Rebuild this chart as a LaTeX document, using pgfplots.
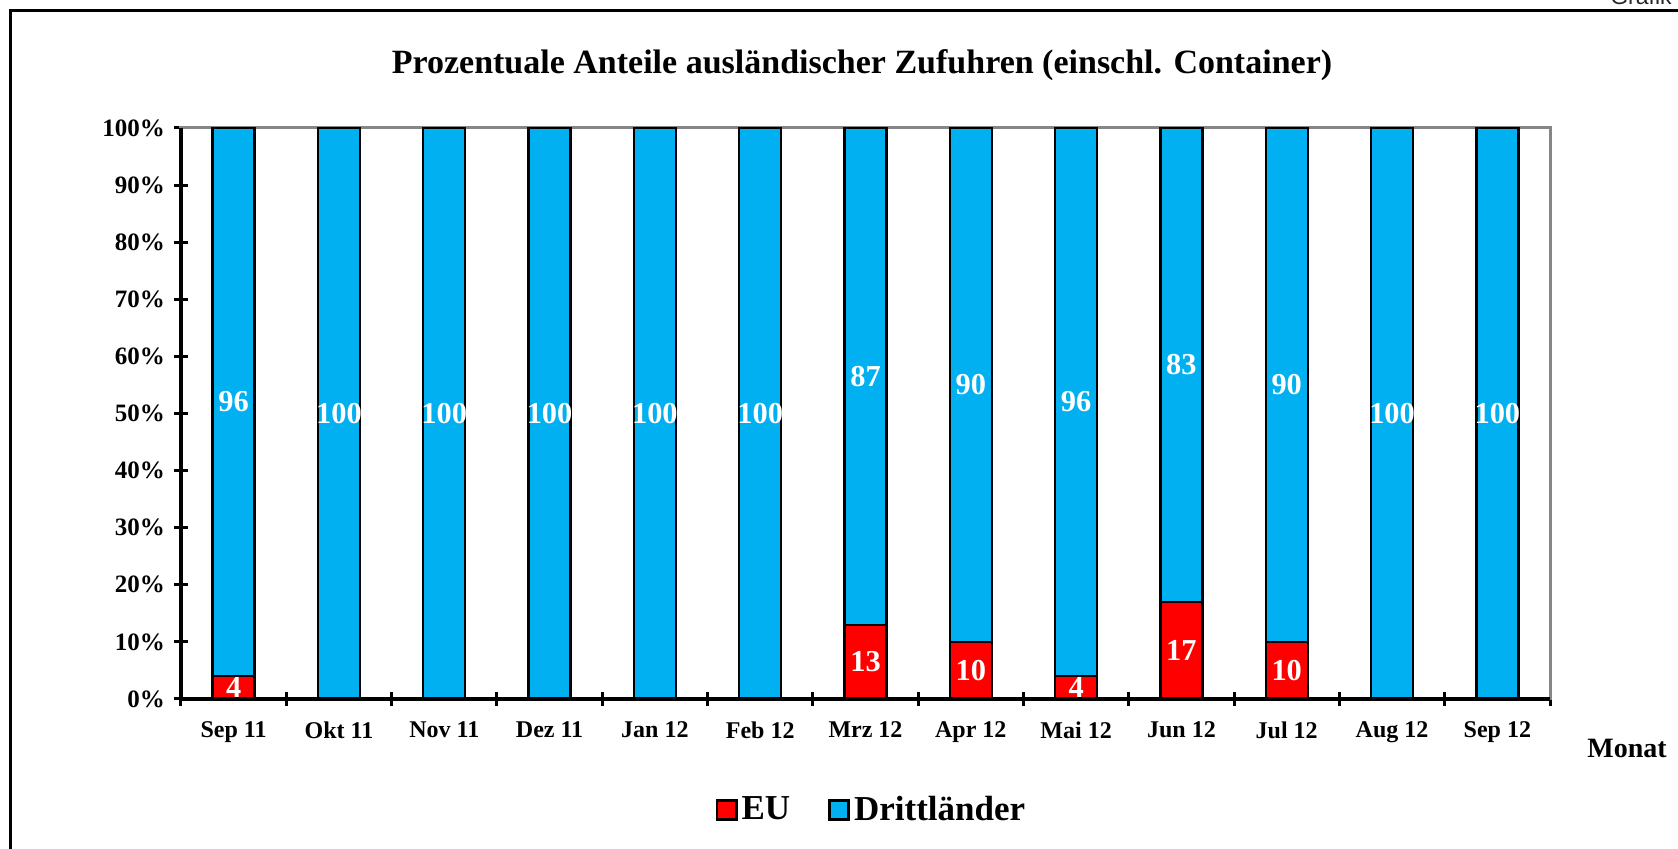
\documentclass[border=0pt]{standalone}
\usepackage{fontspec}
\setmainfont{Liberation Serif}
\newfontfamily\arialfont{Liberation Sans}
\usepackage{pgfplots}
\pgfplotsset{compat=1.18}
\definecolor{dblue}{RGB}{0,176,240}
\definecolor{dred}{RGB}{255,0,0}
\definecolor{agray}{RGB}{134,134,134}
\pgfplotsset{
  frame/.style={
    at={(90.5pt,-64pt)}, anchor=north west,
    width=684.5pt, height=285.5pt, scale only axis,
    xmin=-0.5, xmax=12.5, ymin=0, ymax=100,
  },
  lbl/.style={draw=none, mark=none, nodes near coords, point meta=explicit symbolic,
    nodes near coords style={anchor=center, text=white, font=\bfseries\fontsize{15.2}{17}\selectfont}},
}
\begin{document}
\begin{tikzpicture}
\useasboundingbox (0,0) rectangle (839pt,-424.5pt);
\draw[line width=1.5pt] (5.35pt,-440pt) -- (5.35pt,-5.35pt) -- (850pt,-5.35pt);
\node[anchor=base, font=\arialfont\fontsize{11.5}{12}\selectfont, text=black!85] at (820.5pt,-2.5pt) {Grafik};
\node[font=\bfseries\fontsize{17}{20}\selectfont] at (431pt,-32.5pt) {Prozentuale Anteile ausländischer Zufuhren (einschl. Container)};
\node[font=\bfseries\fontsize{14}{16}\selectfont] at (813.5pt,-374pt) {Monat};
\begin{axis}[
  frame,
  ybar stacked, bar width=21pt,
  axis line style={agray, line width=1.5pt},
  tick pos=left,
  tick align=center,
  major tick length=7pt,
  tick style={black, line width=1.5pt},
  xtick={-0.5,0.5,...,12.5}, xticklabels={},
  extra x ticks={0,1,...,12},
  extra x tick labels={Sep 11,Okt 11,Nov 11,Dez 11,Jan 12,Feb 12,Mrz 12,Apr 12,Mai 12,Jun 12,Jul 12,Aug 12,Sep 12},
  extra x tick style={major tick length=0pt, xticklabel style={yshift=-7.7pt}},
  ytick={0,10,...,100},
  yticklabels={0\%,10\%,20\%,30\%,40\%,50\%,60\%,70\%,80\%,90\%,100\%},
  ticklabel style={font=\bfseries\fontsize{12}{14}\selectfont},
  yticklabel style={font=\bfseries\fontsize{12.5}{14}\selectfont, xshift=-1pt},
  /pgf/number format/assume math mode=true,
  legend style={at={(0.505,-0.194)}, anchor=center, draw=none, fill=none, legend columns=2,
    font=\bfseries\fontsize{17.5}{20}\selectfont,
    /tikz/every even column/.append style={column sep=17pt}},
  after end axis/.code={\draw[black, line width=2pt] (rel axis cs:0,1) -- (rel axis cs:0,0) -- (rel axis cs:1,0);},
]
\addplot[fill=dred, draw=black, line width=1.2pt,
  legend image code/.code={\draw[fill=dred, draw=black, line width=1.4pt] (0pt,-4.8pt) rectangle (9.6pt,4.8pt);}]
  coordinates {(0,4) (1,0) (2,0) (3,0) (4,0) (5,0) (6,13) (7,10) (8,4) (9,17) (10,10) (11,0) (12,0)};
\addplot[fill=dblue, draw=black, line width=1.2pt,
  legend image code/.code={\draw[fill=dblue, draw=black, line width=1.4pt] (0pt,-4.8pt) rectangle (9.6pt,4.8pt);}]
  coordinates {(0,96) (1,100) (2,100) (3,100) (4,100) (5,100) (6,87) (7,90) (8,96) (9,83) (10,90) (11,100) (12,100)};
\legend{EU,Drittländer}
\end{axis}
\begin{axis}[frame, hide axis, clip=false]
% EU labels at the middle of the red segments
\addplot[lbl] coordinates {(0,2) [4] (6,6.5) [13] (7,5) [10] (8,2) [4] (9,8.5) [17] (10,5) [10]};
% Drittlaender labels at the middle of the blue segments
\addplot[lbl] coordinates {(0,52) [96] (1,50) [100] (2,50) [100] (3,50) [100] (4,50) [100] (5,50) [100] (6,56.5) [87] (7,55) [90] (8,52) [96] (9,58.5) [83] (10,55) [90] (11,50) [100] (12,50) [100]};
\end{axis}
\end{tikzpicture}
\end{document}
